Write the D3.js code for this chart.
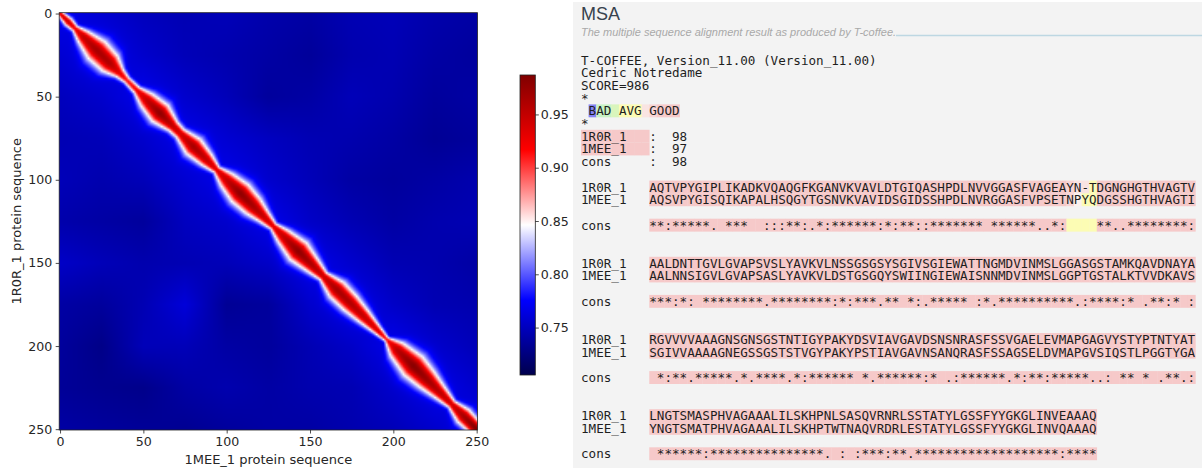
<!DOCTYPE html>
<html>
<head>
<meta charset="utf-8">
<script src="https://cdnjs.cloudflare.com/ajax/libs/d3/7.8.5/d3.min.js"></script>
<style>
  body { margin: 0; background: #ffffff; }
</style>
</head>
<body>
<div id="chart"></div>
<script>
// ---- heatmap data ----
var residues = 251;
var axisTicks = [0, 50, 100, 150, 200, 250];
var cbarTicks = [0.75, 0.8, 0.85, 0.9, 0.95];
var valueMin = 0.7055, valueMax = 0.987;

// along the diagonal: residue, half width of the bright band (|i-j| where it turns white), peak value
var diagPos   = [0, 5, 9, 14, 22, 30, 36, 40, 46, 52, 60, 68, 72, 80, 88, 94, 100, 108, 116, 122, 128, 134, 143, 152, 158, 166, 174, 182, 190, 196, 202, 212, 220, 228, 235, 242, 250];
var diagWidth = [2, 3.5, 2.5, 6, 10, 9, 4, 2.5, 3, 7, 9.5, 5, 4.5, 8.5, 6, 3, 7, 10, 8.5, 5.5, 3, 6.5, 10, 6.5, 4, 8.5, 8, 6, 3.5, 1.8, 7.5, 11, 9, 6, 3.5, 7, 6];
var diagPeak  = [0.93, 0.94, 0.92, 0.95, 0.965, 0.96, 0.93, 0.91, 0.92, 0.95, 0.978, 0.95, 0.94, 0.965, 0.95, 0.93, 0.95, 0.978, 0.965, 0.95, 0.93, 0.95, 0.978, 0.96, 0.945, 0.965, 0.96, 0.95, 0.935, 0.91, 0.955, 0.982, 0.97, 0.955, 0.94, 0.965, 0.987];

// background level off the diagonal, every 25 residues (rows x cols)
var bgStep = 25;
var bgGrid = [
  [0.768, 0.758, 0.750, 0.746, 0.748, 0.743, 0.740, 0.746, 0.748, 0.743, 0.740],
  [0.758, 0.768, 0.756, 0.748, 0.744, 0.740, 0.736, 0.744, 0.746, 0.740, 0.737],
  [0.750, 0.756, 0.768, 0.756, 0.748, 0.737, 0.740, 0.748, 0.744, 0.737, 0.740],
  [0.746, 0.748, 0.756, 0.768, 0.758, 0.751, 0.746, 0.744, 0.740, 0.734, 0.737],
  [0.748, 0.744, 0.748, 0.758, 0.768, 0.756, 0.748, 0.740, 0.737, 0.740, 0.744],
  [0.743, 0.740, 0.737, 0.751, 0.756, 0.768, 0.754, 0.746, 0.740, 0.744, 0.746],
  [0.754, 0.748, 0.744, 0.746, 0.748, 0.754, 0.768, 0.756, 0.746, 0.744, 0.740],
  [0.740, 0.737, 0.746, 0.761, 0.734, 0.737, 0.756, 0.768, 0.754, 0.746, 0.744],
  [0.737, 0.729, 0.748, 0.748, 0.740, 0.737, 0.746, 0.754, 0.768, 0.756, 0.748],
  [0.735, 0.732, 0.730, 0.740, 0.744, 0.740, 0.744, 0.746, 0.756, 0.768, 0.756],
  [0.740, 0.737, 0.735, 0.733, 0.737, 0.740, 0.740, 0.744, 0.748, 0.756, 0.768]
];

// ---- MSA text ----
var msaTitle = "MSA";
var msaSubtitle = "The multiple sequence alignment result as produced by T-coffee.";
var headerLines = ["T-COFFEE, Version_11.00 (Version_11.00)", "Cedric Notredame", "SCORE=986", "*"];
var legendText  = " BAD AVG GOOD";
var legendScore = "-011244478999";
var seqNames = ["1R0R_1", "1MEE_1"];
var seqScores = ["98", "97"];
var consScore = "98";

var seqA = [
  "AQTVPYGIPLIKADKVQAQGFKGANVKVAVLDTGIQASHPDLNVVGGASFVAGEAYN-TDGNGHGTHVAGTV",
  "AALDNTTGVLGVAPSVSLYAVKVLNSSGSGSYSGIVSGIEWATTNGMDVINMSLGGASGSTAMKQAVDNAYA",
  "RGVVVVAAAGNSGNSGSTNTIGYPAKYDSVIAVGAVDSNSNRASFSSVGAELEVMAPGAGVYSTYPTNTYAT",
  "LNGTSMASPHVAGAAALILSKHPNLSASQVRNRLSSTATYLGSSFYYGKGLINVEAAAQ"
];
var seqB = [
  "AQSVPYGISQIKAPALHSQGYTGSNVKVAVIDSGIDSSHPDLNVRGGASFVPSETNPYQDGSSHGTHVAGTI",
  "AALNNSIGVLGVAPSASLYAVKVLDSTGSGQYSWIINGIEWAISNNMDVINMSLGGPTGSTALKTVVDKAVS",
  "SGIVVAAAAGNEGSSGSTSTVGYPAKYPSTIAVGAVNSANQRASFSSAGSELDVMAPGVSIQSTLPGGTYGA",
  "YNGTSMATPHVAGAAALILSKHPTWTNAQVRDRLESTATYLGSSFYYGKGLINVQAAAQ"
];
var consLine = [
  "**:*****. ***  :::**:.*:******:*:**::******* ******..*:    **..********:",
  "***:*: ********.********:*:***.** *:.***** :*.**********.:****:* .**:* :",
  " *:**.*****.*.****.*:****** *.******:* .:******.*:**:*****..: ** * .**.:",
  " ******:***************. : :***:**.*******************:****"
];
// residues that do not score 9 (block, row 0/1/2=cons, first column, scores)
var lowScores = [
  { block: 0, row: 0, col: 55, s: "8774" },
  { block: 0, row: 1, col: 55, s: "8644" },
  { block: 0, row: 2, col: 55, s: "4444" }
];

var scoreColor = {
  "0": "#8383f2", "1": "#c7f2c4", "2": "#d9f5bc", "3": "#e8f8b6", "4": "#fcfcb4",
  "5": "#fdf8c6", "6": "#fbf1ee", "7": "#f9e4e2", "8": "#f8d5d5", "9": "#f6c9c9"
};

// ---- layout ----
var W = 1202, H = 468;
var plot = { left: 59.2, right: 477.5, top: 12.7, bottom: 430 };
var cbar = { left: 520, right: 535.3, top: 75, bottom: 375 };

var svg = d3.select("#chart").append("svg")
  .attr("width", W).attr("height", H);

// seismic colormap
var q = (valueMax - valueMin) / 4;
var color = d3.scaleLinear()
  .domain([valueMin, valueMin + q, valueMin + 2 * q, valueMin + 3 * q, valueMax])
  .range(["#00004d", "#0000ff", "#ffffff", "#ff0000", "#800000"])
  .interpolate(d3.interpolateRgb)
  .clamp(true);

var widthAt = d3.scaleLinear().domain(diagPos).range(diagWidth).clamp(true);
var peakAt = d3.scaleLinear().domain(diagPos).range(diagPeak).clamp(true);

function bgAt(i, j) {
  var gi = i / bgStep, gj = j / bgStep;
  var i0 = Math.min(Math.floor(gi), 9), j0 = Math.min(Math.floor(gj), 9);
  var ti = gi - i0, tj = gj - j0;
  var a = bgGrid[i0][j0] * (1 - tj) + bgGrid[i0][j0 + 1] * tj;
  var b = bgGrid[i0 + 1][j0] * (1 - tj) + bgGrid[i0 + 1][j0 + 1] * tj;
  return a * (1 - ti) + b * ti;
}

function cellValue(i, j) {
  var p = (i + j) / 2, d = Math.abs(i - j);
  var bg = bgAt(i, j), w = widthAt(p), pk = peakAt(p);
  var f1 = (valueMin + 2 * q - bg) / (pk - bg);
  var r = d / w;
  return bg + (pk - bg) * Math.exp(Math.log(f1) * r * r);
}

// draw the matrix into a small canvas, the svg image scales it up smoothly
var canvas = document.createElement("canvas");
canvas.width = residues;
canvas.height = residues;
var ctx = canvas.getContext("2d");
var img = ctx.createImageData(residues, residues);
for (var i = 0; i < residues; i++) {
  for (var j = 0; j < residues; j++) {
    var c = d3.rgb(color(cellValue(i, j)));
    var k = (i * residues + j) * 4;
    img.data[k] = c.r;
    img.data[k + 1] = c.g;
    img.data[k + 2] = c.b;
    img.data[k + 3] = 255;
  }
}
ctx.putImageData(img, 0, 0);

var x = d3.scaleLinear().domain([-0.5, residues - 0.5]).range([plot.left, plot.right]);
var y = d3.scaleLinear().domain([-0.5, residues - 0.5]).range([plot.top, plot.bottom]);

svg.append("image")
  .attr("href", canvas.toDataURL())
  .attr("x", plot.left).attr("y", plot.top)
  .attr("width", plot.right - plot.left)
  .attr("height", plot.bottom - plot.top)
  .attr("preserveAspectRatio", "none");

svg.append("rect")
  .attr("x", plot.left).attr("y", plot.top)
  .attr("width", plot.right - plot.left)
  .attr("height", plot.bottom - plot.top)
  .attr("fill", "none").attr("stroke", "#222").attr("stroke-width", 0.8);

var axisFont = "DejaVu Sans, sans-serif";

var gx = svg.append("g")
  .attr("transform", "translate(0," + plot.bottom + ")")
  .call(d3.axisBottom(x).tickValues(axisTicks).tickSize(3.5).tickPadding(3.5));
var gy = svg.append("g")
  .attr("transform", "translate(" + plot.left + ",0)")
  .call(d3.axisLeft(y).tickValues(axisTicks).tickSize(3.5).tickPadding(3.5));

[gx, gy].forEach(function (g) {
  g.select(".domain").remove();
  g.selectAll("line").attr("stroke", "#222").attr("stroke-width", 0.8);
  g.selectAll("text")
    .attr("fill", "#262626")
    .style("font-family", axisFont)
    .style("font-size", "12.6px");
});

svg.append("text")
  .attr("x", (plot.left + plot.right) / 2).attr("y", 464)
  .attr("text-anchor", "middle")
  .attr("fill", "#262626")
  .style("font-family", axisFont).style("font-size", "13px")
  .text("1MEE_1 protein sequence");

svg.append("text")
  .attr("transform", "translate(21," + (plot.top + plot.bottom) / 2 + ") rotate(-90)")
  .attr("text-anchor", "middle")
  .attr("fill", "#262626")
  .style("font-family", axisFont).style("font-size", "13px")
  .text("1R0R_1 protein sequence");

// colorbar
var grad = svg.append("defs").append("linearGradient")
  .attr("id", "seismic")
  .attr("x1", 0).attr("y1", 1).attr("x2", 0).attr("y2", 0);
color.domain().forEach(function (v, n) {
  grad.append("stop")
    .attr("offset", n / 4)
    .attr("stop-color", color.range()[n]);
});

svg.append("rect")
  .attr("x", cbar.left).attr("y", cbar.top)
  .attr("width", cbar.right - cbar.left)
  .attr("height", cbar.bottom - cbar.top)
  .attr("fill", "url(#seismic)")
  .attr("stroke", "#222").attr("stroke-width", 0.8);

var cy = d3.scaleLinear().domain([valueMin, valueMax]).range([cbar.bottom, cbar.top]);
var gc = svg.append("g")
  .attr("transform", "translate(" + cbar.right + ",0)")
  .call(d3.axisRight(cy).tickValues(cbarTicks).tickFormat(d3.format(".2f")).tickSize(3.5).tickPadding(2));
gc.select(".domain").remove();
gc.selectAll("line").attr("stroke", "#222").attr("stroke-width", 0.8);
gc.selectAll("text")
  .attr("fill", "#262626")
  .style("font-family", axisFont)
  .style("font-size", "12.6px");

// ---- MSA panel ----
var panelX = 573;
svg.append("rect")
  .attr("x", panelX).attr("y", 2)
  .attr("width", W - panelX).attr("height", H - 2)
  .attr("fill", "#f3f3f3");

svg.append("text")
  .attr("x", 581).attr("y", 19.5)
  .attr("fill", "#37424d")
  .style("font-family", "Liberation Sans, Arial, sans-serif")
  .style("font-size", "18px")
  .text(msaTitle);

svg.append("text")
  .attr("x", 581).attr("y", 36)
  .attr("fill", "#a9a9a9")
  .style("font-family", "Liberation Sans, Arial, sans-serif")
  .style("font-size", "11px")
  .style("font-style", "italic")
  .text(msaSubtitle);

svg.append("line")
  .attr("x1", 896).attr("x2", W)
  .attr("y1", 35.5).attr("y2", 35.5)
  .attr("stroke", "#bdd7e2").attr("stroke-width", 1.5);

var textX = 581, charW = 7.585, lineH = 12.7, firstBase = 64.5;

function pad(s, n) {
  while (s.length < n) s += " ";
  return s;
}

// lines: text plus one score char per column ("-" = no background)
var lines = [];
headerLines.forEach(function (t) { lines.push({ t: t, s: "" }); });
lines.push({ t: legendText, s: legendScore });
lines.push({ t: "*", s: "" });
seqNames.forEach(function (nm, n) {
  lines.push({ t: pad(nm, 9) + ":  " + seqScores[n], s: "999999999" });
});
lines.push({ t: pad("cons", 9) + ":  " + consScore, s: "" });
lines.push({ t: "", s: "" });

seqA.forEach(function (a, b) {
  var rows = [a, seqB[b], consLine[b]];
  var sc = rows.map(function (r) { return r.split("").map(function () { return "9"; }); });
  lowScores.filter(function (l) { return l.block === b; }).forEach(function (l) {
    l.s.split("").forEach(function (ch, n) { sc[l.row][l.col + n] = ch; });
  });
  var pre = "---------";
  lines.push({ t: pad(seqNames[0], 9) + a, s: pre + sc[0].join("") });
  lines.push({ t: pad(seqNames[1], 9) + seqB[b], s: pre + sc[1].join("") });
  lines.push({ t: "", s: "" });
  lines.push({ t: pad("cons", 9) + consLine[b], s: pre + sc[2].join("") });
  lines.push({ t: "", s: "" });
  lines.push({ t: "", s: "" });
});

var msa = svg.append("g");
var cells = [];
lines.forEach(function (ln, k) {
  ln.s.split("").forEach(function (ch, col) {
    if (ch !== "-") cells.push({ k: k, col: col, c: scoreColor[ch] });
  });
});

msa.selectAll("rect.cell")
  .data(cells)
  .enter()
  .append("rect")
  .attr("class", "cell")
  .attr("x", function (d) { return textX + d.col * charW; })
  .attr("y", function (d) { return firstBase + d.k * lineH - 10.9; })
  .attr("width", charW + 0.3)
  .attr("height", lineH + 0.2)
  .attr("fill", function (d) { return d.c; });

msa.selectAll("text.line")
  .data(lines)
  .enter()
  .append("text")
  .attr("class", "line")
  .attr("x", textX)
  .attr("y", function (d, k) { return firstBase + k * lineH; })
  .attr("xml:space", "preserve")
  .style("white-space", "pre")
  .style("font-family", "DejaVu Sans Mono, monospace")
  .style("font-size", "12.6px")
  .attr("fill", "#1e1e1e")
  .text(function (d) { return d.t; });
</script>
</body>
</html>
